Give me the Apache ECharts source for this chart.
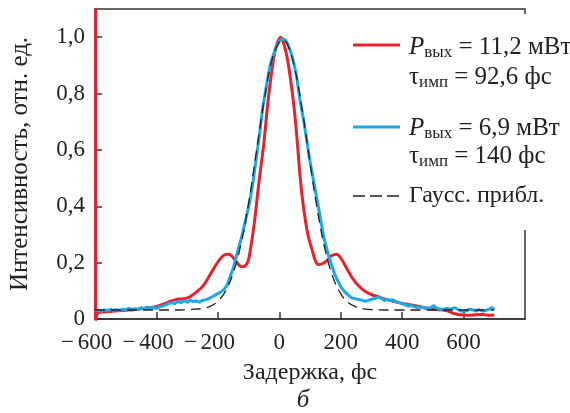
<!DOCTYPE html>
<html><head><meta charset="utf-8">
<script src="https://cdn.jsdelivr.net/npm/echarts@6/dist/echarts.min.js"></script>
<style>html,body{margin:0;padding:0;background:#fff}#c{width:570px;height:413px}</style>
</head><body><div id="c"></div>
<script>
// Delay (fs), normalized intensity
const redData = [[-598,1.1],[-598,-0.005],[-590,0.022],[-570,0.025],[-550,0.027],[-525,0.029],[-500,0.031],[-475,0.033],[-450,0.036],[-425,0.04],[-400,0.044],[-385,0.05],[-370,0.056],[-355,0.063],[-340,0.068],[-326,0.071],[-310,0.072],[-294,0.077],[-280,0.087],[-265,0.1],[-252,0.113],[-240,0.13],[-225,0.158],[-210,0.185],[-195,0.21],[-182,0.225],[-171,0.23],[-160,0.228],[-148,0.215],[-138,0.2],[-128,0.188],[-118,0.185],[-108,0.192],[-100,0.212],[-92,0.26],[-85,0.31],[-78,0.37],[-70,0.45],[-60,0.54],[-50,0.625],[-37,0.77],[-19,0.92],[-8,0.975],[5,1.0],[15,0.975],[27,0.92],[45,0.78],[57,0.65],[65,0.54],[75,0.43],[85,0.35],[95,0.29],[107,0.245],[118,0.205],[128,0.193],[140,0.196],[155,0.207],[170,0.224],[187,0.23],[203,0.212],[220,0.178],[235,0.15],[250,0.128],[268,0.108],[283,0.096],[300,0.087],[332,0.075],[360,0.066],[385,0.059],[410,0.053],[439,0.048],[465,0.042],[492,0.036],[520,0.033],[546,0.029],[562,0.022],[578,0.017],[600,0.014],[621,0.013],[640,0.015],[663,0.016],[680,0.013],[700,0.014]];

const blueData = [[-600,0.030],[-590,0.031],[-580,0.028],[-570,0.032],[-560,0.030],[-550,0.034],[-540,0.031],[-530,0.033],[-520,0.030],[-510,0.035],[-500,0.033],[-490,0.038],[-480,0.034],[-470,0.037],[-460,0.033],[-450,0.040],[-440,0.036],[-430,0.042],[-420,0.038],[-410,0.041],[-400,0.037],[-390,0.043],[-380,0.046],[-370,0.050],[-360,0.055],[-350,0.058],[-340,0.054],[-330,0.062],[-320,0.058],[-310,0.065],[-300,0.060],[-290,0.066],[-280,0.062],[-270,0.064],[-260,0.060],[-250,0.066],[-240,0.068],[-230,0.072],[-220,0.078],[-210,0.084],[-200,0.090],[-190,0.096],[-180,0.105],[-170,0.120],[-160,0.150],[-150,0.18],[-139,0.226],[-128,0.27],[-118,0.31],[-107,0.365],[-96,0.417],[-85,0.49],[-75,0.57],[-65,0.65],[-54,0.75],[-40,0.84],[-29,0.905],[-20,0.935],[-10,0.965],[0,0.985],[10,0.995],[20,0.99],[27,0.977],[35,0.955],[45,0.92],[55,0.87],[67,0.78],[80,0.70],[90,0.63],[100,0.56],[110,0.50],[123,0.423],[134,0.357],[145,0.29],[160,0.226],[171,0.19],[180,0.16],[187,0.143],[200,0.115],[214,0.095],[225,0.085],[235,0.075],[251,0.071],[265,0.068],[280,0.063],[289,0.066],[300,0.070],[310,0.072],[320,0.078],[326,0.083],[335,0.072],[342,0.065],[352,0.070],[360,0.066],[369,0.068],[380,0.062],[390,0.058],[396,0.054],[410,0.050],[420,0.046],[430,0.048],[439,0.044],[450,0.041],[460,0.043],[470,0.040],[480,0.038],[492,0.040],[503,0.048],[510,0.040],[520,0.036],[535,0.034],[545,0.038],[555,0.035],[572,0.040],[585,0.032],[599,0.026],[610,0.030],[620,0.035],[631,0.032],[640,0.028],[650,0.033],[663,0.028],[675,0.032],[685,0.036],[693,0.040],[700,0.035]];

const gaussData = [[-600,0.032],[-400,0.032],[-325,0.032],[-300,0.033],[-275,0.035],[-250,0.037],[-225,0.045],[-200,0.063],[-175,0.099],[-150,0.163],[-125,0.265],[-100,0.41],[-75,0.59],[-50,0.77],[-25,0.915],[0,0.985],[10,0.99],[25,0.978],[50,0.89],[75,0.74],[100,0.555],[125,0.38],[150,0.242],[175,0.147],[200,0.09],[225,0.058],[250,0.043],[275,0.036],[300,0.033],[350,0.032],[700,0.032]];

const legendRed = ['вых', ' = 11,2 мВт', 'имп', ' = 92,6 фс'];
const legendBlue = ['вых', ' = 6,9 мВт', 'имп', ' = 140 фс'];
const legendGauss = 'Гаусс. прибл.';

const FONT = 'Liberation Serif';
const RED = '#e8212b', BLUE = '#1aa9e5', DARK = '#222';

const chart = echarts.init(document.getElementById('c'), null, {renderer:'canvas'});

function richLine(parts, x, y, italicP) {
  const head = italicP ? '{i|P}' : '{t|τ}';
  return {
    type: 'text', x: x, y: y, z: 20,
    style: {
      text: head + '{s|' + parts[0] + '}{n|' + parts[1] + '}',
      verticalAlign: 'middle',
      rich: {
        i: {fontFamily: FONT, fontStyle: 'italic', fontSize: 25, fill: DARK, lineHeight: 28},
        t: {fontFamily: FONT, fontSize: 25, fill: DARK, lineHeight: 28},
        s: {fontFamily: FONT, fontSize: 17, fill: DARK, lineHeight: 12, verticalAlign: 'bottom'},
        n: {fontFamily: FONT, fontSize: 25, fill: DARK, lineHeight: 28}
      }
    }
  };
}

const xCommon = {type: 'value', min: -600, max: 800, interval: 200, splitLine: {show: false}};

const option = {
  animation: false,
  backgroundColor: '#fff',
  grid: {left: 90, right: 45, top: 9, bottom: 94, show: true, borderColor: '#333', borderWidth: 1.5, backgroundColor: 'rgba(0,0,0,0)'},
  xAxis: [
    Object.assign({}, xCommon, {
      axisLine: {onZero: false, lineStyle: {color: '#333', width: 1.5}},
      axisTick: {inside: true, length: 7, lineStyle: {color: '#333', width: 1.5}},
      axisLabel: {
        showMinLabel: true, showMaxLabel: false, margin: 12, fontFamily: FONT, fontSize: 23, color: DARK,
        formatter: v => String(Math.abs(v))
      },
      name: 'Задержка, фс', nameLocation: 'middle', nameGap: 42,
      nameTextStyle: {fontFamily: FONT, fontSize: 24, color: DARK}
    }),
    Object.assign({}, xCommon, {
      position: 'bottom', axisLine: {show: false, onZero: false}, axisTick: {show: false},
      axisLabel: {
        showMinLabel: true, showMaxLabel: false, margin: 12, align: 'right', fontFamily: FONT, fontSize: 23, color: DARK,
        formatter: v => v < 0 ? '{m|\u2212}{g|\u2009\u2009\u2009}' : '',
        rich: {
          m: {fontFamily: FONT, fontSize: 23, color: DARK},
          g: {fontFamily: FONT, fontSize: 23, color: 'rgba(0,0,0,0)', width: 21}
        }
      }
    })
  ],
  yAxis: {
    type: 'value', min: 0, max: 1.1, interval: 0.2,
    axisLine: {onZero: false, lineStyle: {color: '#333', width: 1.5}},
    axisTick: {inside: true, length: 7, lineStyle: {color: '#333', width: 1.5}},
    splitLine: {show: false},
    axisLabel: {
      showMinLabel: true, showMaxLabel: false, margin: 10, fontFamily: FONT, fontSize: 23, color: DARK,
      formatter: v => v === 0 ? '0' : v.toFixed(1).replace('.', ',')
    },
    name: 'Интенсивность, отн. ед.', nameLocation: 'middle', nameGap: 62,
    nameTextStyle: {fontFamily: FONT, fontSize: 25, color: DARK}
  },
  series: [
    {type: 'line', data: redData, showSymbol: false, smooth: 0.3, clip: false, z: 2,
     lineStyle: {color: RED, width: 3}},
    {type: 'line', data: blueData, showSymbol: false, smooth: false, z: 3,
     lineStyle: {color: BLUE, width: 3}},
    {type: 'line', data: gaussData, showSymbol: false, smooth: 0.4, z: 4,
     lineStyle: {color: DARK, width: 1.3, type: [10, 6]}}
  ],
  graphic: [
    {type: 'rect', z: 10, shape: {x: 344, y: 14, width: 226, height: 216}, style: {fill: '#fff'}},
    {type: 'line', z: 20, shape: {x1: 353, y1: 45, x2: 400, y2: 45}, style: {stroke: RED, lineWidth: 3}},
    richLine(legendRed.slice(0, 2), 409, 47, true),
    richLine(legendRed.slice(2, 4), 409, 77, false),
    {type: 'line', z: 20, shape: {x1: 353, y1: 127, x2: 400, y2: 127}, style: {stroke: BLUE, lineWidth: 3}},
    richLine(legendBlue.slice(0, 2), 409, 128, true),
    richLine(legendBlue.slice(2, 4), 409, 156, false),
    {type: 'line', z: 20, shape: {x1: 353, y1: 196, x2: 400, y2: 196}, style: {stroke: DARK, lineWidth: 1.5, lineDash: [12, 5]}},
    {type: 'text', z: 20, x: 409, y: 196, style: {text: legendGauss, fontFamily: FONT, fontSize: 24, fill: DARK, verticalAlign: 'middle'}},
    {type: 'text', z: 20, x: 303, y: 400, style: {text: 'б', fontFamily: FONT, fontStyle: 'italic', fontSize: 25, fill: DARK, align: 'center', verticalAlign: 'middle'}}
  ]
};
chart.setOption(option);
</script>
</body></html>
